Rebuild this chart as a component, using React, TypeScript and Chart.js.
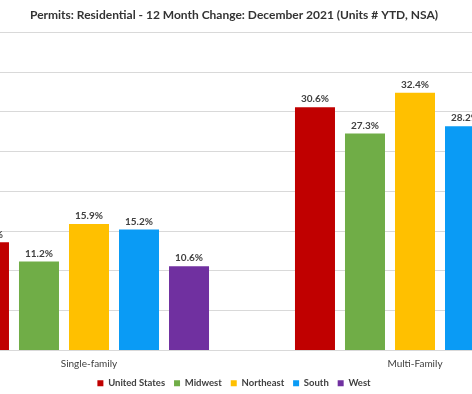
import { useEffect, useRef } from "react";
import { Chart, registerables } from "chart.js";

Chart.register(...registerables);

const categories = ["Single-family", "Multi-Family"];
const seriesNames = ["United States", "Midwest", "Northeast", "South", "West"];
const unitedStates = [13.6, 30.6];
const midwest = [11.2, 27.3];
const northeast = [15.9, 32.4];
const south = [15.2, 28.2];
const west = [10.6, 36.9];
const seriesColors = ["#C00000", "#70AD47", "#FFC000", "#0A9BF5", "#7030A0"];
const yMin = 0;
const yMax = 40;
const yStep = 5;
const titleText = "Permits: Residential - 12 Month Change: December 2021 (Units # YTD, NSA)";

const FONT = "Lato";

const valueLabels = {
  id: "valueLabels",
  afterDatasetsDraw(chart: any) {
    const ctx = chart.ctx;
    ctx.save();
    ctx.font = `bold 10px ${FONT}`;
    ctx.fillStyle = "#404040";
    ctx.textAlign = "center";
    ctx.textBaseline = "bottom";
    chart.data.datasets.forEach((ds: any, i: number) => {
      const meta = chart.getDatasetMeta(i);
      meta.data.forEach((bar: any, j: number) => {
        ctx.fillText(Number(ds.data[j]).toFixed(1) + "%", bar.x, bar.y - 3);
      });
    });
    ctx.restore();
  },
};

export default function App() {
  const ref = useRef<HTMLCanvasElement | null>(null);

  useEffect(() => {
    if (!ref.current) return;
    const seriesData = [unitedStates, midwest, northeast, south, west];
    const chart = new Chart(ref.current, {
      type: "bar",
      data: {
        labels: categories,
        datasets: seriesNames.map((name, i) => ({
          label: name,
          data: seriesData[i],
          backgroundColor: seriesColors[i],
          borderWidth: 0,
          categoryPercentage: 0.767,
          barPercentage: 0.8,
        })),
      },
      options: {
        responsive: false,
        animation: false,
        layout: { padding: { left: 0, right: 4, top: 0, bottom: 0 } },
        scales: {
          x: {
            grid: { display: false, drawTicks: false },
            border: { display: false },
            ticks: {
              color: "#404040",
              padding: 7,
              font: { family: FONT, size: 10 },
            },
          },
          y: {
            min: yMin,
            max: yMax,
            ticks: { stepSize: yStep, display: false },
            grid: { color: "#D9D9D9", drawTicks: false },
            border: { display: false },
            afterFit: (axis: any) => {
              axis.width = 36;
            },
          },
        },
        plugins: {
          title: {
            display: true,
            text: titleText,
            color: "#333333",
            font: { family: FONT, size: 12, weight: "bold" },
            padding: { top: 8, bottom: 10 },
          },
          legend: {
            position: "bottom",
            labels: {
              boxWidth: 6,
              boxHeight: 6,
              padding: 2,
              color: "#404040",
              font: { family: FONT, size: 9.5, weight: "bold" },
              generateLabels: (c: any) => {
                const items = Chart.defaults.plugins.legend.labels.generateLabels(c);
                return items.map((l: any, i: number) => ({
                  ...l,
                  text: i < items.length - 1 ? l.text + "   " : l.text,
                }));
              },
            },
          },
          tooltip: { enabled: false },
        },
      },
      plugins: [valueLabels],
    });
    return () => chart.destroy();
  }, []);

  return (
    <div
      style={{
        position: "fixed",
        left: 0,
        top: 0,
        width: 472,
        height: 394,
        overflow: "hidden",
        background: "#fff",
      }}
    >
      <canvas
        ref={ref}
        width={692}
        height={398}
        style={{ position: "absolute", left: -110, top: 0, width: 692, height: 398 }}
      />
    </div>
  );
}
